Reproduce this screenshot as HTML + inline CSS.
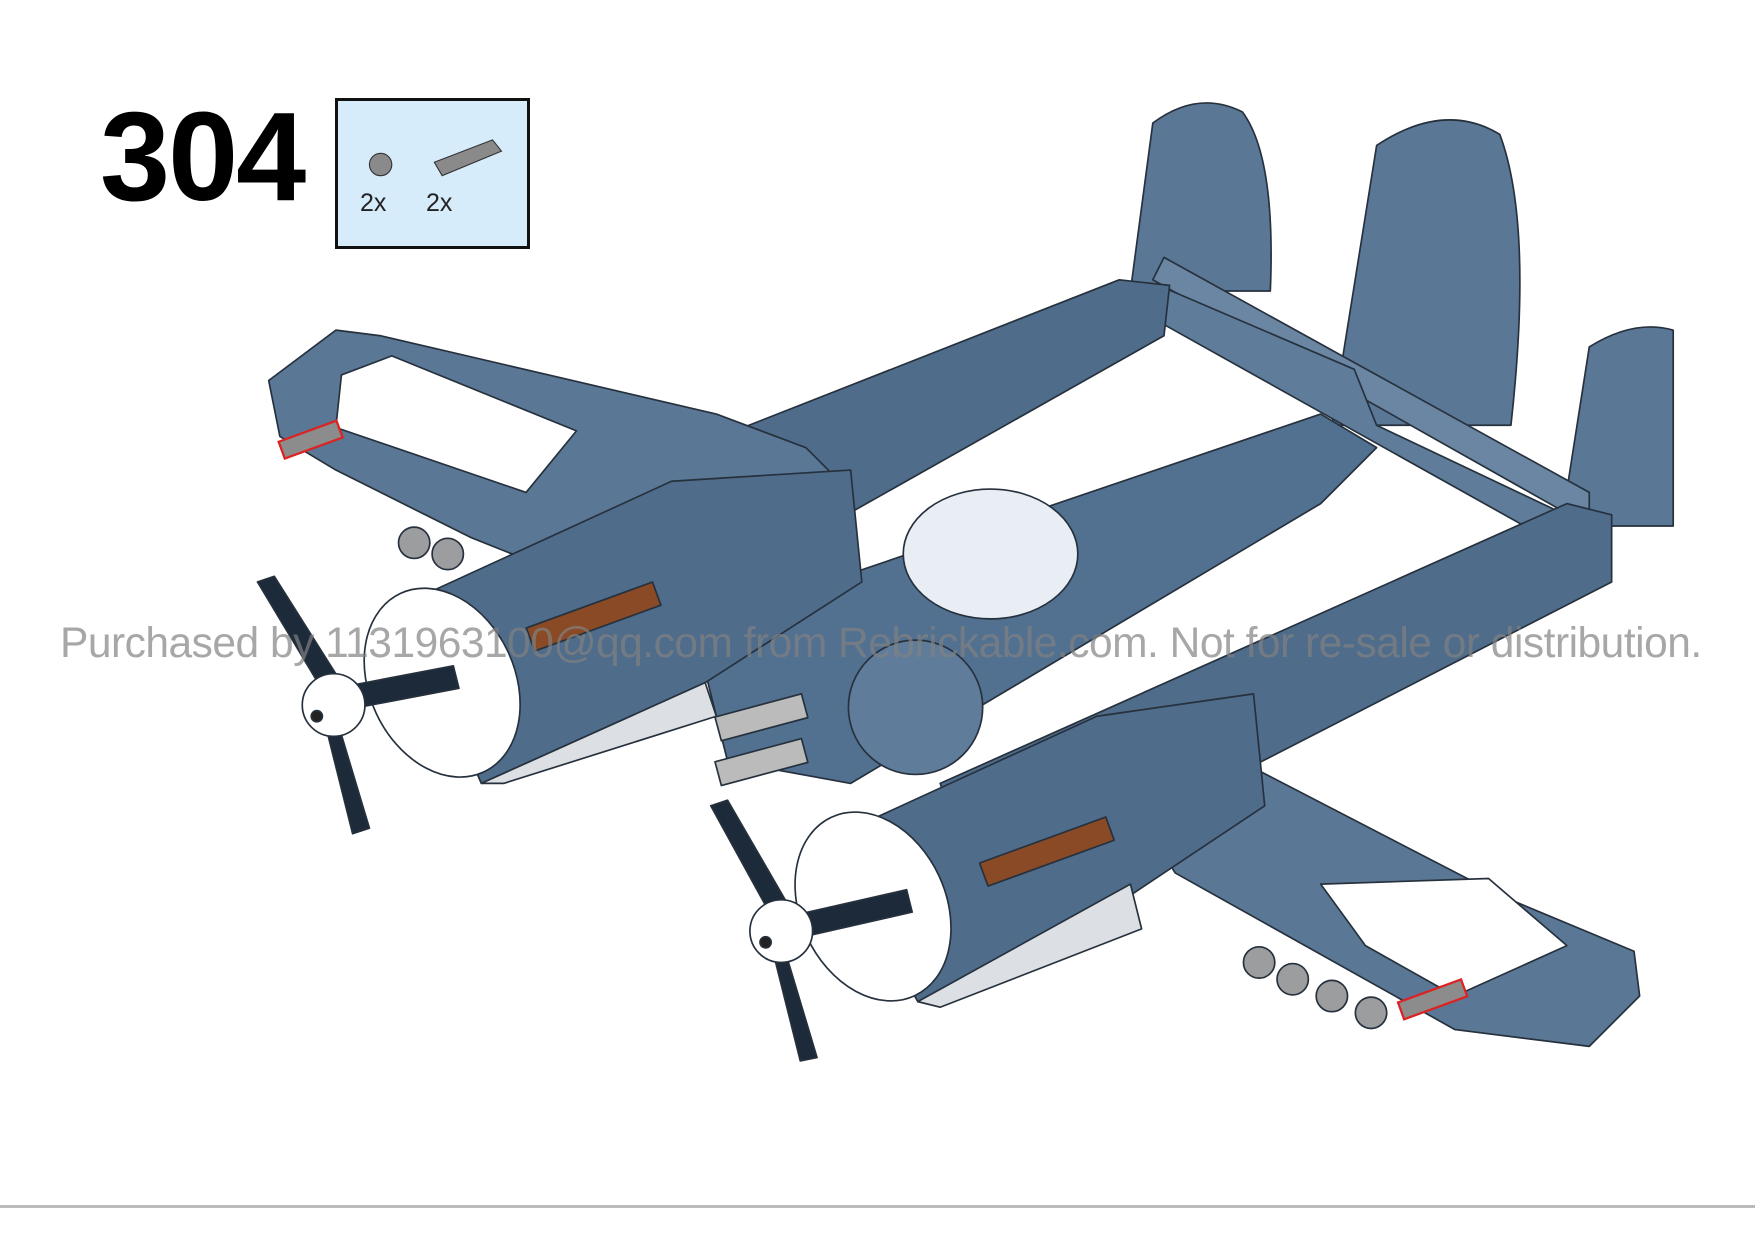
<!DOCTYPE html>
<html><head><meta charset="utf-8"><style>
html,body{margin:0;padding:0;background:#fff;}
.wrap{position:relative;width:1755px;height:1240px;overflow:hidden;background:#fff;font-family:"Liberation Sans",sans-serif;}
.num{position:absolute;left:100px;top:94px;font-size:126px;font-weight:bold;color:#000;letter-spacing:-2px;line-height:1;}
.box{position:absolute;left:335px;top:98px;width:189px;height:145px;border:3px solid #111;background:#d6ecfb;}
.box span{position:absolute;top:88px;font-size:25px;color:#222;}
.wm{position:absolute;left:60px;top:620px;font-size:42.5px;color:rgba(130,130,130,0.7);white-space:nowrap;letter-spacing:-0.5px;}
.line{position:absolute;left:0;top:1205px;width:1755px;height:3px;background:#bbb;}
svg{position:absolute;left:0;top:0;}
</style></head><body><div class="wrap">
<div class="num">304</div>
<div class="box"><span style="left:22px">2x</span><span style="left:88px">2x</span></div>
<svg width="1755" height="1240" viewBox="0 0 1568 1108">
<g stroke="#26313d" stroke-width="1.5" stroke-linejoin="round">
<path d="M1010,260 L1030,110 Q1070,80 1110,100 Q1140,140 1135,260 Z" fill="#5a7795"/>
<path d="M1190,380 L1230,130 Q1290,90 1340,120 Q1370,200 1350,380 Z" fill="#5a7795"/>
<path d="M1395,470 L1420,310 Q1460,285 1495,295 L1495,470 Z" fill="#5a7795"/>
<path d="M1030,250 L1040,230 L1420,440 L1420,470 Z" fill="#6a86a3"/>
<path d="M1035,255 L1210,330 L1230,380 L1420,470 L1380,480 L1040,290 Z" fill="#5f7c9a"/>
<path d="M440,470 L1000,250 L1045,255 L1040,300 L650,520 L520,560 Z" fill="#4f6c8b"/>
<path d="M620,560 L1180,370 L1230,400 L1180,450 L760,700 L650,680 Z" fill="#52708f"/>
<path d="M840,700 L1400,450 L1440,460 L1440,520 L1050,720 L880,820 Z" fill="#4f6c8b"/>
<path d="M240,340 L300,295 L340,300 L640,370 L720,400 L760,440 L520,520 L420,480 L300,420 L250,390 Z" fill="#5a7795"/>
<path d="M305,335 L350,318 L515,385 L470,440 L300,382 Z" fill="#fff"/>
<path d="M1000,700 L1050,650 L1340,800 L1460,850 L1465,890 L1420,935 L1300,920 L1050,780 Z" fill="#5a7795"/>
<path d="M1180,790 L1330,785 L1400,845 L1300,890 L1220,845 Z" fill="#fff"/>
<ellipse cx="885" cy="495" rx="78" ry="58" fill="#e8eef3"/>
<circle cx="818" cy="632" r="60" fill="#5f7c9a"/>
<rect x="640" y="630" width="80" height="22" fill="#bbb" transform="rotate(-15 680 640)"/>
<rect x="640" y="670" width="80" height="22" fill="#bbb" transform="rotate(-15 680 680)"/>
<path d="M360,540 L600,430 L760,420 L770,520 L630,610 L430,700 Z" fill="#4f6c8b"/>
<path d="M430,700 L630,610 L640,640 L450,700 Z" fill="#dcdfe3"/>
<ellipse cx="395" cy="610" rx="65" ry="88" fill="#fff" transform="rotate(-25 395 610)"/>
<path d="M740,750 L980,640 L1120,620 L1130,720 L1010,800 L820,895 Z" fill="#4f6c8b"/>
<path d="M820,895 L1010,790 L1020,830 L840,900 Z" fill="#dcdfe3"/>
<ellipse cx="780" cy="810" rx="65" ry="88" fill="#fff" transform="rotate(-25 780 810)"/>
<g fill="#8a4a26"><rect x="470" y="540" width="120" height="22" transform="rotate(-20 530 550)"/>
<rect x="875" y="750" width="120" height="22" transform="rotate(-20 935 760)"/></g>
<g fill="#9b9d9f"><circle cx="370" cy="485" r="14"/><circle cx="400" cy="495" r="14"/>
<circle cx="1125" cy="860" r="14"/><circle cx="1155" cy="875" r="14"/><circle cx="1190" cy="890" r="14"/><circle cx="1225" cy="905" r="14"/></g>
<g fill="#1d2a3a">
<path d="M290,620 L230,520 L245,515 L305,610 Z"/><path d="M300,615 L405,595 L410,615 L305,635 Z"/><path d="M300,640 L330,740 L315,745 L290,645 Z"/>
<path d="M690,820 L635,720 L650,715 L705,810 Z"/><path d="M700,820 L810,795 L815,815 L705,840 Z"/><path d="M700,845 L730,945 L715,948 L690,848 Z"/>
</g>
<circle cx="298" cy="630" r="28" fill="#fff"/><circle cx="698" cy="832" r="28" fill="#fff"/>
<circle cx="283" cy="640" r="5" fill="#222"/><circle cx="684" cy="842" r="5" fill="#222"/>
</g>
<g stroke="#d22" stroke-width="2" fill="#8c8c8c"><rect x="250" y="385" width="55" height="16" transform="rotate(-20 277 393)"/><rect x="1250" y="885" width="60" height="16" transform="rotate(-20 1280 893)"/></g>
<g fill="#8a8a8a" stroke="#333" stroke-width="1"><circle cx="340" cy="147" r="10"/><path d="M388,145 L440,125 L448,135 L395,157 Z"/></g>
</svg>
<div class="wm">Purchased by 1131963100@qq.com from Rebrickable.com. Not for re-sale or distribution.</div>
<div class="line"></div>
</div></body></html>
